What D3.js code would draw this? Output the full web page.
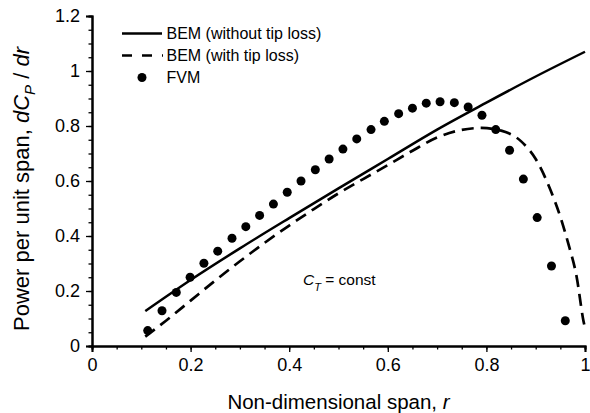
<!DOCTYPE html>
<html>
<head>
<meta charset="utf-8">
<script src="https://cdn.jsdelivr.net/npm/d3@7"></script>
<style>
  body { margin: 0; background: #fff; }
  svg { display: block; font-family: Arial, "Liberation Sans", sans-serif; }
</style>
</head>
<body>
<svg id="chart" width="590" height="413"></svg>
<script>
// BEM without tip loss (solid)
const bemR = [0.108, 0.2, 0.3, 0.4, 0.5, 0.6, 0.7, 0.8, 0.9, 1.0];
const bemCp = [0.127, 0.24, 0.355, 0.465, 0.573, 0.68, 0.787, 0.885, 0.98, 1.07];

// BEM with tip loss (dashed)
const tipR = [0.108, 0.15, 0.2, 0.25, 0.3, 0.35, 0.4, 0.45, 0.5, 0.55, 0.6, 0.65, 0.7, 0.75, 0.79, 0.83, 0.87, 0.9, 0.93, 0.95, 0.966, 0.983, 0.997, 1.0];
const tipCp = [0.034, 0.092, 0.165, 0.238, 0.308, 0.375, 0.438, 0.498, 0.555, 0.607, 0.658, 0.71, 0.758, 0.786, 0.793, 0.783, 0.745, 0.68, 0.567, 0.47, 0.373, 0.252, 0.09, 0.065];

// FVM (dots)
const fvmR = [0.113, 0.142, 0.171, 0.199, 0.227, 0.255, 0.284, 0.312, 0.340, 0.368, 0.396, 0.424, 0.453, 0.481, 0.509, 0.537, 0.566, 0.593, 0.622, 0.650, 0.678, 0.706, 0.735, 0.763, 0.791, 0.819, 0.847, 0.875, 0.903, 0.932, 0.960];
const fvmCp = [0.056, 0.128, 0.195, 0.25, 0.301, 0.345, 0.392, 0.434, 0.475, 0.516, 0.559, 0.6, 0.641, 0.68, 0.716, 0.753, 0.787, 0.817, 0.845, 0.865, 0.883, 0.888, 0.885, 0.869, 0.839, 0.787, 0.712, 0.607, 0.467, 0.291, 0.092];

const xTicks = [0, 0.2, 0.4, 0.6, 0.8, 1];
const yTicks = [0, 0.2, 0.4, 0.6, 0.8, 1, 1.2];
const xTickLabels = ["0", "0.2", "0.4", "0.6", "0.8", "1"];
const yTickLabels = ["0", "0.2", "0.4", "0.6", "0.8", "1", "1.2"];

const config = {
  left: 92,
  right: 585,
  top: 16,
  bottom: 346,
  tickFont: 18,
  titleFont: 20.5,
  legendFont: 16
};

const x = d3.scaleLinear().domain([0, 1]).range([config.left, config.right]);
const y = d3.scaleLinear().domain([0, 1.2]).range([config.bottom, config.top]);

const svg = d3.select("#chart");

const toPts = (rs, vs) => rs.map((r, i) => ({ r, v: vs[i] }));

//Axes
const xAxis = d3.axisBottom(x)
  .tickValues(xTicks)
  .tickFormat((d, i) => xTickLabels[i])
  .tickSize(6)
  .tickPadding(6);

const xMinor = d3.axisBottom(x)
  .tickValues(d3.range(0, 1.0001, 0.05))
  .tickFormat("")
  .tickSize(3.5);

const yAxis = d3.axisLeft(y)
  .tickValues(yTicks)
  .tickFormat((d, i) => yTickLabels[i])
  .tickSize(6)
  .tickPadding(6);

const yMinor = d3.axisLeft(y)
  .tickValues(d3.range(0, 1.2001, 0.05))
  .tickFormat("")
  .tickSize(3.5);

const gx = svg.append("g").attr("transform", `translate(0,${config.bottom})`);
gx.call(xMinor);
gx.append("g").call(xAxis);

const gy = svg.append("g").attr("transform", `translate(${config.left},0)`);
gy.call(yMinor);
gy.append("g").call(yAxis);

svg.selectAll(".domain").attr("stroke", "#000").attr("stroke-width", 2);
svg.selectAll(".tick line").attr("stroke", "#000").attr("stroke-width", 1.3);
svg.selectAll(".tick text")
  .attr("fill", "#000")
  .style("font-size", config.tickFont + "px")
  .style("font-family", "Arial, 'Liberation Sans', sans-serif");

//Curves
const line = d3.line()
  .x(d => x(d.r))
  .y(d => y(d.v))
  .curve(d3.curveMonotoneX);

svg.append("path")
  .datum(toPts(bemR, bemCp))
  .attr("d", line)
  .attr("fill", "none")
  .attr("stroke", "#000")
  .attr("stroke-width", 2.5);

svg.append("path")
  .datum(toPts(tipR, tipCp))
  .attr("d", line)
  .attr("fill", "none")
  .attr("stroke", "#000")
  .attr("stroke-width", 2.7)
  .attr("stroke-dasharray", "12,7");

svg.append("g")
  .selectAll("circle")
  .data(toPts(fvmR, fvmCp))
  .enter()
  .append("circle")
  .attr("cx", d => x(d.r))
  .attr("cy", d => y(d.v))
  .attr("r", 4.5)
  .attr("fill", "#000");

//Legend
const legend = svg.append("g").style("font-size", config.legendFont + "px");
legend.append("line")
  .attr("x1", 122).attr("x2", 162).attr("y1", 33.5).attr("y2", 33.5)
  .attr("stroke", "#000").attr("stroke-width", 2.5);
legend.append("line")
  .attr("x1", 122).attr("x2", 163).attr("y1", 55.5).attr("y2", 55.5)
  .attr("stroke", "#000").attr("stroke-width", 2.5)
  .attr("stroke-dasharray", "10,10");
legend.append("circle")
  .attr("cx", 142).attr("cy", 77.5).attr("r", 4.5).attr("fill", "#000");
legend.append("text").attr("x", 166.5).attr("y", 39).text("BEM (without tip loss)");
legend.append("text").attr("x", 166.5).attr("y", 61).text("BEM (with tip loss)");
legend.append("text").attr("x", 166.5).attr("y", 83).text("FVM");

//Annotation
const ct = svg.append("text").attr("x", 303).attr("y", 285).style("font-size", "15.5px");
ct.append("tspan").style("font-style", "italic").text("C");
ct.append("tspan").style("font-style", "italic").style("font-size", "11px").attr("dy", 6).text("T");
ct.append("tspan").attr("dy", -6).text(" = const");

//Axis titles
const xt = svg.append("text")
  .attr("x", (config.left + config.right) / 2)
  .attr("y", 409)
  .attr("text-anchor", "middle")
  .style("font-size", config.titleFont + "px");
xt.append("tspan").text("Non-dimensional span, ");
xt.append("tspan").style("font-style", "italic").text("r");

const yt = svg.append("text")
  .attr("transform", `translate(29,189) rotate(-90)`)
  .attr("text-anchor", "middle")
  .style("font-size", "22px");
yt.append("tspan").text("Power per unit span, ");
yt.append("tspan").style("font-style", "italic").text("dC");
yt.append("tspan").style("font-style", "italic").style("font-size", "15px").attr("dy", 6).text("P");
yt.append("tspan").attr("dy", -6).text(" / ");
yt.append("tspan").style("font-style", "italic").text("dr");
</script>
</body>
</html>
